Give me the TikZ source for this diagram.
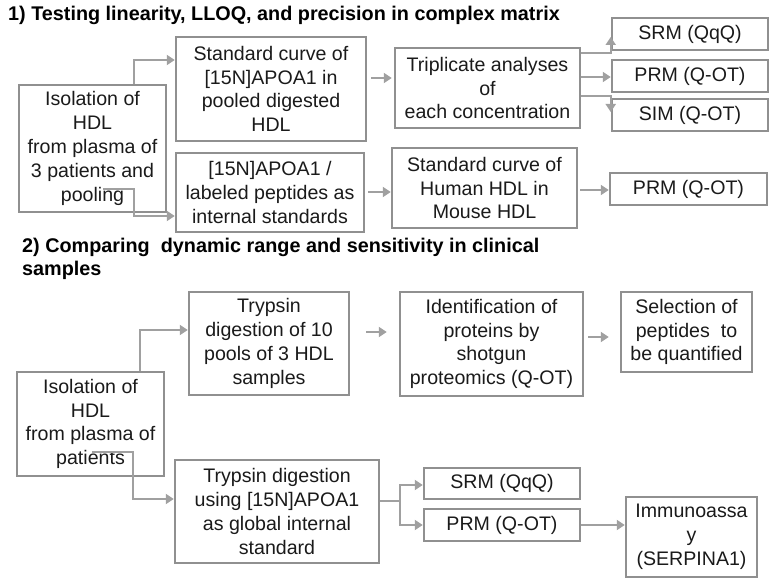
\documentclass[tikz,border=0pt]{standalone}
\usepackage{fontspec}
\setmainfont{Liberation Sans}
\usetikzlibrary{arrows.meta}

\definecolor{boxline}{HTML}{909090}
\definecolor{flowline}{HTML}{A0A0A0}
\definecolor{inktext}{HTML}{1A1A1A}
\newcommand\boxfont{\fontsize{19.6}{23.8}\selectfont}
\newcommand\titlefont{\fontsize{19.8}{23}\selectfont\bfseries}

\begin{document}
\begin{tikzpicture}[x=1pt,y=-1pt,
  box/.style={draw=boxline, line width=2.5pt, inner sep=0pt, align=center,
    font=\boxfont, text=inktext},
  flow/.style={draw=flowline, line width=2.5pt,
    -{Triangle[length=8pt,width=10pt]}},
  plain/.style={draw=flowline, line width=2.5pt},
  title/.style={font=\titlefont, text=black, inner sep=0pt, align=left}]
  \useasboundingbox (0,0) rectangle (776,585);

  % Part 1
  \node[title, anchor=base west] (title1) at (8,21)
    {1) Testing linearity, LLOQ, and precision in complex matrix};

  \node[box, minimum width=147, minimum height=127] (iso1) at (92.5,148.5)
    {Isolation of\\HDL\\from plasma of\\3 patients and\\pooling};
  \node[box, minimum width=190, minimum height=104] (std1) at (271,89)
    {Standard curve of\\{}[15N]APOA1 in\\pooled digested\\HDL};
  \node[box, minimum width=188, minimum height=79] (lab1) at (270,192.5)
    {[15N]APOA1 /\\labeled peptides as\\internal standards};
  \node[box, minimum width=185, minimum height=80] (trip) at (487.5,88)
    {Triplicate analyses\\of\\each concentration};
  \node[box, minimum width=185, minimum height=80] (hum) at (484.5,188)
    {Standard curve of\\Human HDL in\\Mouse HDL};
  \node[box, minimum width=156, minimum height=32] (srm1) at (690,34) {SRM (QqQ)};
  \node[box, minimum width=156, minimum height=32] (prm1) at (690,76) {PRM (Q-OT)};
  \node[box, minimum width=156, minimum height=32] (sim1) at (690,115) {SIM (Q-OT)};
  \node[box, minimum width=157, minimum height=32] (prm1b) at (688.5,189) {PRM (Q-OT)};

  \coordinate (pool) at (103,189);
  \draw[flow] (iso1.north -| 134,0) |- (std1.west |- 0,60);
  \draw[flow] (pool) -| (134,216) -- (lab1.west |- 0,216);
  \draw[flow, shorten <=4pt, shorten >=2pt] (std1.east |- 0,78) -- (trip.west |- 0,78);
  \draw[flow, shorten <=3pt] (lab1.east |- 0,192) -- (hum.west |- 0,192);
  \draw[flow] (trip.east |- 0,53) -| ([yshift=-3pt]srm1.west);
  \draw[flow] (trip.east |- 0,77) -- (prm1.west |- 0,77);
  \draw[flow] (trip.east |- 0,96) -| ([yshift=3pt]sim1.west);
  \draw[flow, shorten <=2pt] (hum.east |- 0,190) -- (prm1b.west |- 0,190);

  % Part 2
  \node[title, anchor=base west] (title2) at (22,276)
    {2) Comparing\ \ dynamic range and sensitivity in clinical\\samples};

  \node[box, minimum width=147, minimum height=104] (iso2) at (90.5,424)
    {Isolation of\\HDL\\from plasma of\\patients};
  \node[box, minimum width=160, minimum height=103] (tryp) at (269,343.5)
    {Trypsin\\digestion of 10\\pools of 3 HDL\\samples};
  \node[box, minimum width=204, minimum height=103] (dig) at (277,511.5)
    {Trypsin digestion\\using [15N]APOA1\\as global internal\\standard};
  \node[box, minimum width=183, minimum height=104] (ident) at (491.5,344)
    {Identification of\\proteins by\\shotgun\\proteomics (Q-OT)};
  \node[box, minimum width=131, minimum height=80] (sel) at (686.5,332)
    {Selection of\\peptides\ \ to\\be quantified};
  \node[box, minimum width=156, minimum height=31] (srm2) at (502,483.5) {SRM (QqQ)};
  \node[box, minimum width=156, minimum height=32] (prm2) at (502,525) {PRM (Q-OT)};
  \node[box, minimum width=131, minimum height=80] (imm) at (691.5,537)
    {Immunoassa\\y\\(SERPINA1)};

  \coordinate (pat) at (92,452);
  \coordinate (split) at (400,501);
  \draw[flow] (iso2.north -| 140,0) |- (tryp.west |- 0,330);
  \draw[flow] (pat) -| (133,499) -- (dig.west |- 0,499);
  \draw[flow, shorten <=16pt, shorten >=12pt] (tryp.east |- 0,332) -- (ident.west |- 0,332);
  \draw[flow, shorten <=4pt, shorten >=11pt] (ident.east |- 0,337) -- (sel.west |- 0,337);
  \draw[plain] (dig.east |- split) -- (split);
  \draw[flow] (split) |- (srm2.west |- 0,485);
  \draw[flow] (split) |- (prm2.west |- 0,525);
  \draw[flow] (prm2.east) -- (imm.west |- prm2.east);
\end{tikzpicture}
\end{document}
